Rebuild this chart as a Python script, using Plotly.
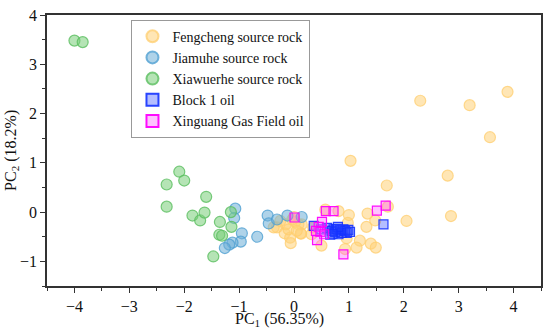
import plotly.graph_objects as go

# Fengcheng source rock
feng_x = [3.89, 2.30, 3.20, 3.57, 1.03, 2.80, 1.69, 1.71, 2.86, 2.05, 1.34, 1.48, 1.32, 1.20, 1.14,
          1.40, 1.49, 1.00, 0.98, 0.96, 0.93, 0.81, 0.57, 0.50, 0.32, 0.35, 0.14, 0.13, 0.08, 0.02,
          -0.03, -0.15, -0.25, -0.31, -0.37, -0.17, -0.07, -0.06, 0.12, -0.10, 0.00, 0.05]
feng_y = [2.44, 2.26, 2.17, 1.52, 1.04, 0.74, 0.54, 0.11, -0.08, -0.18, -0.03, -0.17, -0.30, -0.58, -0.72,
          -0.64, -0.72, -0.06, -0.22, -0.53, -0.75, 0.02, 0.05, -0.68, -0.45, -0.31, -0.25, -0.44, -0.25, -0.20,
          -0.15, -0.25, -0.18, -0.31, -0.31, -0.43, -0.52, -0.63, -0.43, -0.35, -0.10, -0.38]

# Jiamuhe source rock
jia_x = [-1.07, -1.09, -0.95, -0.97, -1.12, -1.18, -1.26, -0.67, -0.48, -0.46, -0.31, -0.12, 0.14]
jia_y = [0.07, -0.12, -0.43, -0.60, -0.62, -0.66, -0.73, -0.50, -0.07, -0.23, -0.15, -0.07, -0.10]

# Xiawuerhe source rock
xia_x = [-4.00, -3.85, -2.09, -2.00, -2.32, -2.32, -1.60, -1.85, -1.71, -1.63, -1.35, -1.15, -1.14, -1.36, -1.31, -1.47]
xia_y = [3.48, 3.45, 0.82, 0.64, 0.56, 0.11, 0.31, -0.07, -0.17, -0.01, -0.20, 0.00, -0.30, -0.46, -0.48, -0.90]

# Block 1 oil
blk_x = [0.36, 0.50, 0.60, 0.66, 0.69, 0.72, 0.75, 0.78, 0.81, 0.84, 0.87, 0.90, 0.93, 0.96, 0.99, 1.02, 0.80, 0.70, 1.63]
blk_y = [-0.28, -0.35, -0.32, -0.46, -0.38, -0.35, -0.40, -0.34, -0.45, -0.37, -0.42, -0.35, -0.38, -0.42, -0.36, -0.40, -0.30, -0.44, -0.25]

# Xinguang Gas Field oil
xin_x = [0.01, 0.58, 0.72, 0.51, 0.45, 0.40, 0.48, 0.55, 0.42, 0.90, 1.51, 1.67]
xin_y = [-0.11, 0.02, 0.02, -0.20, -0.30, -0.38, -0.40, -0.45, -0.57, -0.86, 0.03, 0.13]

names = ["Fengcheng source rock", "Jiamuhe source rock", "Xiawuerhe source rock",
         "Block 1 oil", "Xinguang Gas Field oil"]
x_title = "PC<sub>1</sub> (56.35%)"
y_title = "PC<sub>2</sub> (18.2%)"

FONT = "Liberation Serif"

fig = go.Figure()

def add(xs, ys, name, symbol, fill, line, size):
    fig.add_trace(go.Scatter(
        x=xs, y=ys, mode="markers", name=name,
        marker=dict(symbol=symbol, size=size, color=fill,
                    line=dict(color=line, width=1.2))))

add(feng_x, feng_y, names[0], "circle", "rgba(255,210,120,0.55)", "rgba(255,205,110,0.75)", 11)
add(jia_x, jia_y, names[1], "circle", "rgba(110,175,215,0.55)", "rgba(80,160,210,0.8)", 11)
add(xia_x, xia_y, names[2], "circle", "rgba(120,205,120,0.55)", "rgba(90,190,95,0.8)", 11)
add(blk_x, blk_y, names[3], "square", "rgba(40,70,255,0.35)", "rgba(20,50,255,0.9)", 9)
add(xin_x, xin_y, names[4], "square", "rgba(255,80,255,0.35)", "rgba(255,0,255,0.95)", 9)

axis_common = dict(
    showline=True, linecolor="#333", linewidth=1.5, mirror=True,
    ticks="outside", ticklen=5, tickwidth=1.2, tickcolor="#333",
    showgrid=False, zeroline=False,
    tickfont=dict(family=FONT, size=16, color="#111"),
)

fig.update_layout(
    width=550, height=330,
    margin=dict(l=47, r=7, t=12, b=44),
    paper_bgcolor="white", plot_bgcolor="white",
    font=dict(family=FONT, size=15, color="#111"),
    xaxis=dict(range=[-4.5, 4.5], dtick=1, tick0=0,
               minor=dict(ticks="outside", ticklen=3, dtick=0.5, tickcolor="#333"),
               **axis_common),
    yaxis=dict(range=[-1.5, 4], dtick=1, tick0=0,
               minor=dict(ticks="outside", ticklen=3, dtick=0.5, tickcolor="#333"),
               **axis_common),
    legend=dict(x=0.171, y=0.983, xanchor="left", yanchor="top",
                bgcolor="white", bordercolor="#999", borderwidth=1,
                font=dict(family=FONT, size=14), itemsizing="constant",
                tracegroupgap=0),
    showlegend=True,
    annotations=[
        dict(text=x_title, xref="paper", yref="paper", x=0.47, y=-0.082,
             xanchor="center", yanchor="top", showarrow=False,
             font=dict(family=FONT, size=16, color="#111")),
        dict(text=y_title, xref="paper", yref="paper", x=-0.072, y=0.5,
             xanchor="center", yanchor="middle", textangle=-90, showarrow=False,
             font=dict(family=FONT, size=16, color="#111")),
    ],
)

fig.write_html("out.html", config={"displayModeBar": False},
               post_script="document.body.style.margin='0';document.body.style.padding='0';")
